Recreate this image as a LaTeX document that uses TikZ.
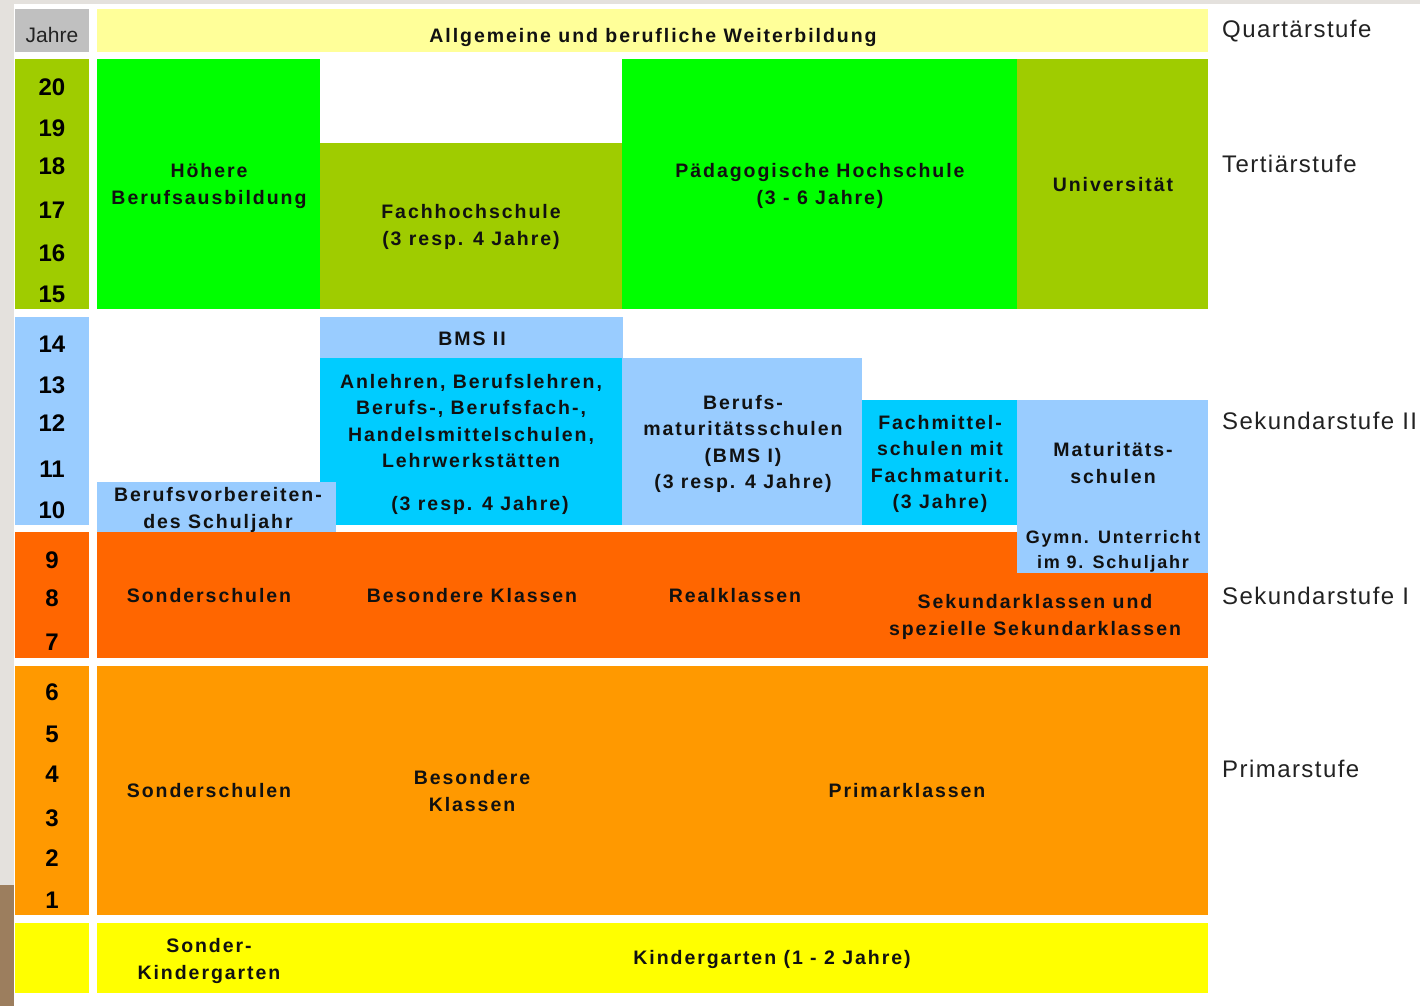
\documentclass[tikz,border=0pt]{standalone}
\usepackage{fontspec}
\setmainfont{Liberation Sans}
\newfontfamily\lblfont{Liberation Sans}[LetterSpace=10]
\newfontfamily\stufefont{Liberation Sans}[LetterSpace=6]
\definecolor{cFrame}{HTML}{E4E1DD}
\definecolor{cWood}{HTML}{9C7E5E}
\definecolor{cGrey}{HTML}{C0C0C0}
\definecolor{cLtYellow}{HTML}{FFFF99}
\definecolor{cLime}{HTML}{9FCC00}
\definecolor{cGreen}{HTML}{00FF00}
\definecolor{cLtBlue}{HTML}{99CCFF}
\definecolor{cCyan}{HTML}{00CCFF}
\definecolor{cRed}{HTML}{FF6600}
\definecolor{cOrange}{HTML}{FF9900}
\definecolor{cYellow}{HTML}{FFFF00}
\definecolor{cText}{HTML}{111111}
\definecolor{cStufe}{HTML}{222222}
\begin{document}
\begin{tikzpicture}[x=1pt,y=-1pt,
  lbl/.style={font=\lblfont\bfseries\fontsize{19.5}{26.5}\selectfont, align=center, inner sep=0pt, text=cText},
  yr/.style={font=\bfseries\fontsize{24}{24}\selectfont, inner sep=0pt, text=black},
  stufe/.style={font=\stufefont\fontsize{24}{24}\selectfont, anchor=west, inner sep=0pt, text=cStufe}]
\useasboundingbox (0,0) rectangle (1420,1006);
\fill[white] (0,0) rectangle (1420,1006);
\fill[cFrame] (0,0) rectangle (1420,4);
\fill[cFrame] (0,0) rectangle (14,1006);
\fill[cWood] (0,885) rectangle (14,1006);
% year column
\fill[cGrey] (15,9) rectangle (89,52);
\fill[cLime] (15,59) rectangle (89,309);
\fill[cLtBlue] (15,317) rectangle (89,525);
\fill[cRed] (15,532) rectangle (89,658);
\fill[cOrange] (15,666) rectangle (89,915);
\fill[cYellow] (15,923) rectangle (89,993);
% top
\fill[cLtYellow] (97,9) rectangle (1208,52);
% tertiary
\fill[cGreen] (97,59) rectangle (320,309);
\fill[cLime] (320,143) rectangle (622,309);
\fill[cGreen] (622,59) rectangle (1017,309);
\fill[cLime] (1017,59) rectangle (1208,309);
% secondary II
\fill[cLtBlue] (320,317) rectangle (623,358);
\fill[cCyan] (320,358) rectangle (622,525);
\fill[cLtBlue] (622,358) rectangle (862,525);
\fill[cCyan] (862,400) rectangle (1017,525);
% secondary I
\fill[cRed] (97,532) rectangle (1208,658);
\fill[cLtBlue] (1017,400) rectangle (1208,573);
\fill[cLtBlue] (97,482) rectangle (336,532);
% primary, kindergarten
\fill[cOrange] (97,666) rectangle (1208,915);
\fill[cYellow] (97,923) rectangle (1208,993);

% year labels
\node[font=\fontsize{21}{21}\selectfont, inner sep=0pt, text=cStufe] (jahre) at (52,35) {Jahre};
\foreach \n/\y in {20/87,19/128,18/166,17/210,16/253,15/294,14/344,13/385,12/423,11/469,10/510,9/560,8/598,7/642,6/692,5/734,4/774,3/818,2/858,1/900}
  \node[yr] (y\n) at (52,\y) {\n};

% stage labels
\node[stufe] (quart) at (1222,31) {Quartärstufe};
\node[stufe] (tert) at (1222,164) {Tertiärstufe};
\node[stufe] (sek2) at (1222,421) {Sekundarstufe II};
\node[stufe] (sek1) at (1222,596) {Sekundarstufe I};
\node[stufe] (prim) at (1222,769) {Primarstufe};

% box labels
\node[lbl] (weiter) at (653,38) {Allgemeine und berufliche Weiterbildung};
\node[lbl] (hbb) at (209,186) {Höhere\\Berufsausbildung};
\node[lbl] (fh) at (471,227) {Fachhochschule\\(3 resp. 4 Jahre)};
\node[lbl] (ph) at (820,186) {Pädagogische Hochschule\\(3 - 6 Jahre)};
\node[lbl] (uni) at (1113,185) {Universität};
\node[lbl] (bms2) at (472,339) {BMS II};
\node[lbl] (anl) at (471,421) {Anlehren, Berufslehren,\\Berufs-, Berufsfach-,\\Handelsmittelschulen,\\Lehrwerkstätten};
\node[lbl] (anl2) at (480,505) {(3 resp. 4 Jahre)};
\node[lbl] (bms1) at (743,444) {Berufs-\\maturitätsschulen\\(BMS I)\\(3 resp. 4 Jahre)};
\node[lbl] (fms) at (940,464) {Fachmittel-\\schulen mit\\Fachmaturit.\\(3 Jahre)};
\node[lbl] (mat) at (1113,463) {Maturitäts-\\schulen};
\node[lbl, font=\lblfont\bfseries\fontsize{18}{25}\selectfont] (gymn) at (1113,551) {Gymn. Unterricht\\im 9. Schuljahr};
\node[lbl] (bvs) at (218,510) {Berufsvorbereiten-\\des Schuljahr};
\node[lbl] (sond1) at (209,596) {Sonderschulen};
\node[lbl] (bes1) at (472,596) {Besondere Klassen};
\node[lbl] (real) at (735,596) {Realklassen};
\node[lbl] (sek) at (1035,617) {Sekundarklassen und\\spezielle Sekundarklassen};
\node[lbl] (sond2) at (209,791) {Sonderschulen};
\node[lbl] (bes2) at (472,791) {Besondere\\Klassen};
\node[lbl] (primk) at (907,791) {Primarklassen};
\node[lbl] (skg) at (209,961) {Sonder-\\Kindergarten};
\node[lbl] (kg) at (772,959) {Kindergarten (1 - 2 Jahre)};
\end{tikzpicture}
\end{document}
